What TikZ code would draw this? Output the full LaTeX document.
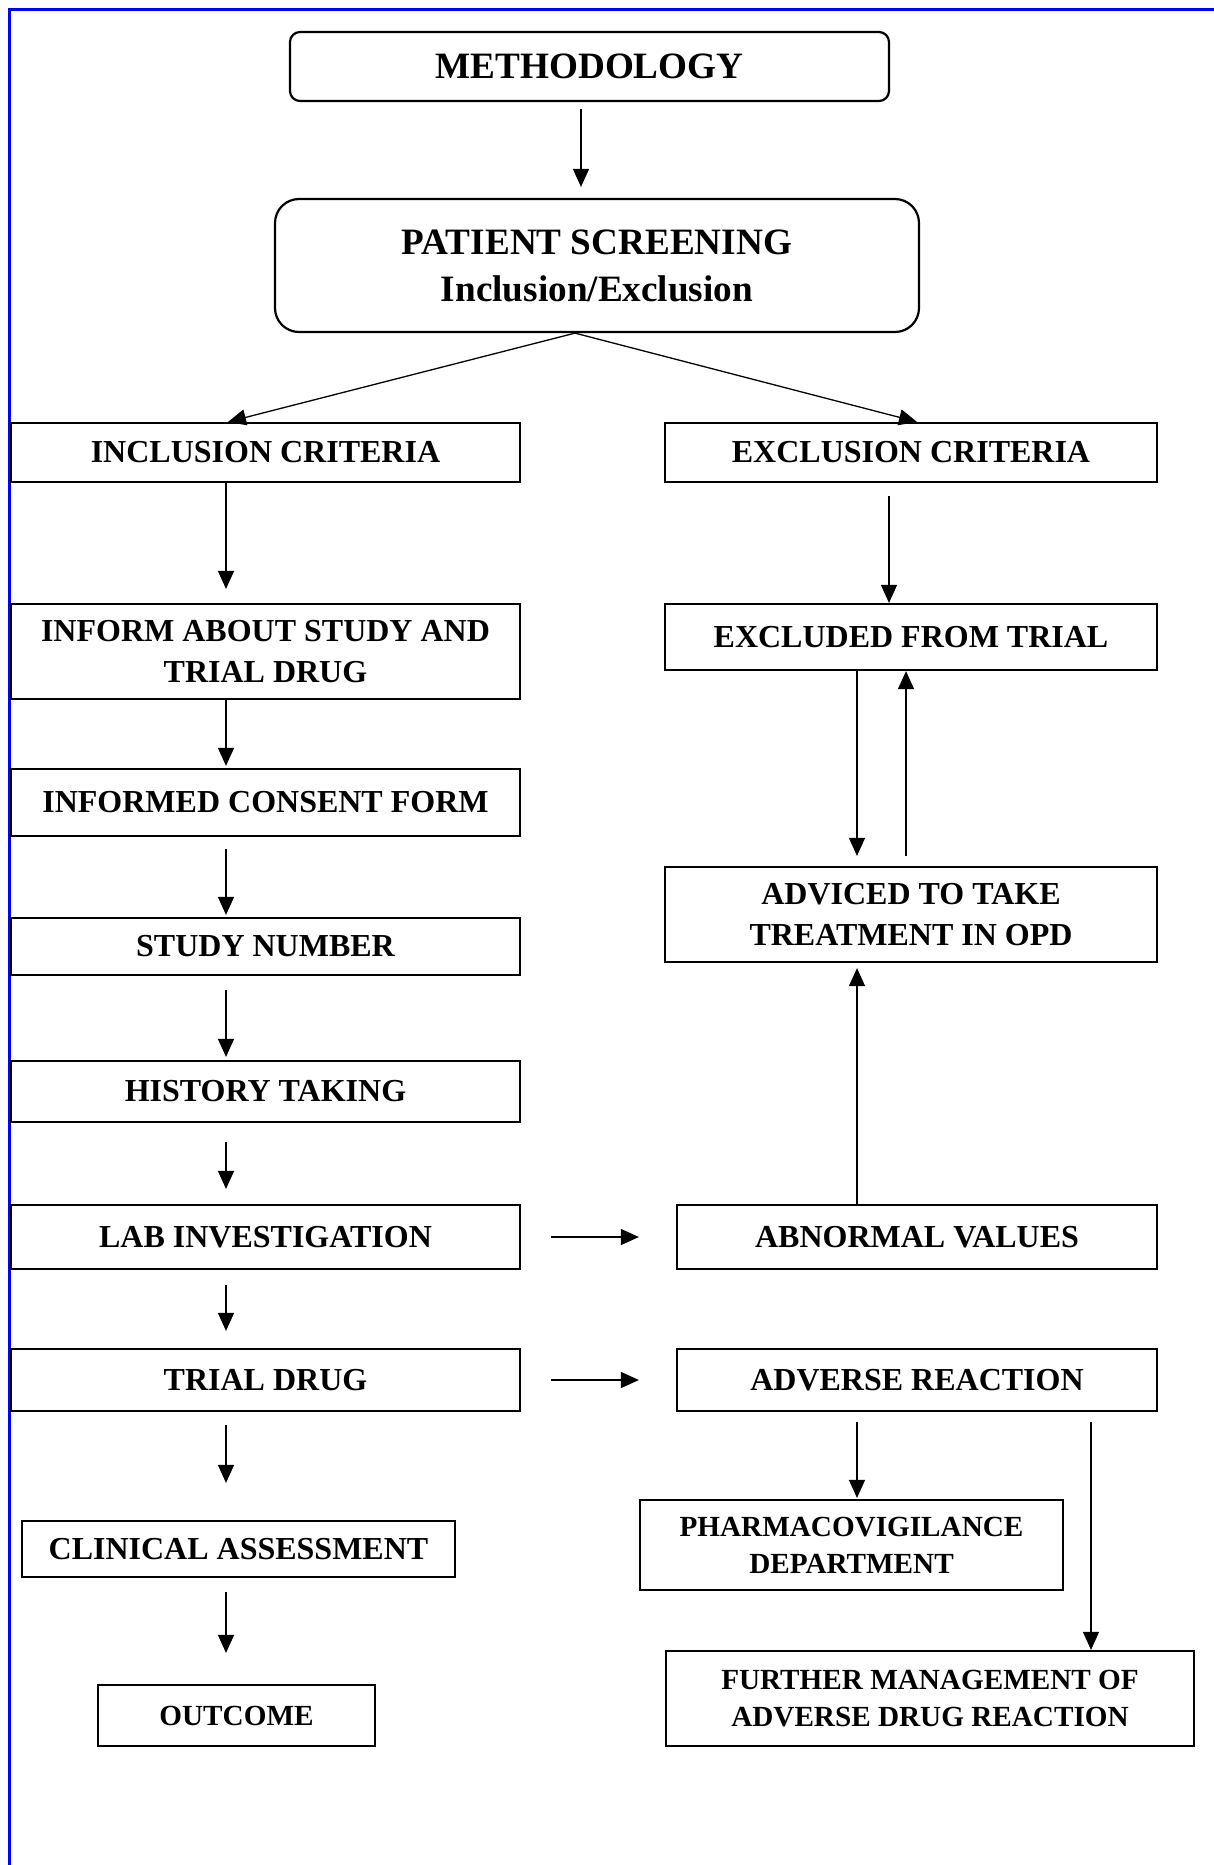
\documentclass[tikz,border=0pt]{standalone}
\usepackage{fontspec}
\setmainfont{Liberation Serif}
\usetikzlibrary{arrows.meta}

\begin{document}
\begin{tikzpicture}[x=0.5pt,y=-0.5pt,
	box/.style = {draw, line width=1.1pt, inner sep=0pt, align=center, font=\bfseries\fontsize{16}{20.2}\selectfont},
	smallbox/.style = {box, font=\bfseries\fontsize{14.6}{18.4}\selectfont},
	headbox/.style = {box, rounded corners=5pt, font=\bfseries\fontsize{18.6}{23.5}\selectfont},
	>={Triangle[length=9pt,width=8pt]},
	link/.style = {->, line width=0.65pt}]
	\useasboundingbox (0,0) rectangle (1214,1865);
	\draw[blue, line width=1.2pt] (1214,9.5) -- (9.5,9.5) -- (9.5,1865);
	\node[headbox, minimum width=299.5pt, minimum height=34.5pt] (meth) at (589.5,66.5) {METHODOLOGY};
	\node[headbox, rounded corners=12pt, minimum width=322pt, minimum height=66.5pt] (screen) at (597,265.5) {PATIENT SCREENING\\Inclusion/Exclusion};
	\node[box, minimum width=254.5pt, minimum height=29.5pt] (inc) at (265.5,452.5) {INCLUSION CRITERIA};
	\node[box, minimum width=246pt, minimum height=29.5pt] (exc) at (911,452.5) {EXCLUSION CRITERIA};
	\node[box, minimum width=254.5pt, minimum height=47.5pt] (inform) at (265.5,651.5) {INFORM ABOUT STUDY AND\\TRIAL DRUG};
	\node[box, minimum width=246pt, minimum height=33pt] (excl) at (911,637) {EXCLUDED FROM TRIAL};
	\node[box, minimum width=254.5pt, minimum height=33.5pt] (consent) at (265.5,802.5) {INFORMED CONSENT FORM};
	\node[box, minimum width=246pt, minimum height=47.5pt] (opd) at (911,914.5) {ADVICED TO TAKE\\TREATMENT IN OPD};
	\node[box, minimum width=254.5pt, minimum height=28.5pt] (study) at (265.5,946.5) {STUDY NUMBER};
	\node[box, minimum width=254.5pt, minimum height=30.5pt] (hist) at (265.5,1091.5) {HISTORY TAKING};
	\node[box, minimum width=254.5pt, minimum height=32pt] (lab) at (265.5,1237) {LAB INVESTIGATION};
	\node[box, minimum width=240pt, minimum height=32pt] (abn) at (917,1237) {ABNORMAL VALUES};
	\node[box, minimum width=254.5pt, minimum height=31pt] (trial) at (265.5,1380) {TRIAL DRUG};
	\node[box, minimum width=240pt, minimum height=31pt] (adr) at (917,1380) {ADVERSE REACTION};
	\node[box, minimum width=216.5pt, minimum height=28pt] (clin) at (238.5,1549) {CLINICAL ASSESSMENT};
	\node[smallbox, minimum width=211.5pt, minimum height=45pt] (pv) at (851.5,1545) {PHARMACOVIGILANCE\\DEPARTMENT};
	\node[smallbox, minimum width=138.5pt, minimum height=30.5pt] (out) at (236.5,1715.5) {OUTCOME};
	\node[smallbox, minimum width=264pt, minimum height=47.5pt] (mgmt) at (930,1698.5) {FURTHER MANAGEMENT OF\\ADVERSE DRUG REACTION};
	\coordinate (mcol) at (581,0);
	\coordinate (lcol) at (226,0);
	\coordinate (ecol) at (889,0);
	\coordinate (dcol) at (857,0);
	\coordinate (ucol) at (906,0);
	\coordinate (fcol) at (1091,0);
	\draw[link, shorten <=3.5pt, shorten >=5.5pt] (meth.south -| mcol) -- (screen.north -| mcol);
	\draw[link] ([xshift=-11pt]screen.south) -- ([xshift=-18.75pt]inc.north);
	\draw[link] ([xshift=-11pt]screen.south) -- ([xshift=3pt]exc.north);
	\draw[link, shorten >=7pt] (inc.south -| lcol) -- (inform.north -| lcol);
	\draw[link, shorten <=6.5pt] (exc.south -| ecol) -- (excl.north -| ecol);
	\draw[link, shorten >=1pt] (inform.south -| lcol) -- (consent.north -| lcol);
	\draw[link, shorten <=6pt, shorten >=1pt] (consent.south -| lcol) -- (study.north -| lcol);
	\draw[link, shorten <=7pt, shorten >=1.5pt] (study.south -| lcol) -- (hist.north -| lcol);
	\draw[link, shorten <=9.5pt, shorten >=7.5pt] (hist.south -| lcol) -- (lab.north -| lcol);
	\draw[link, shorten <=15pt, shorten >=18.5pt] (lab.east) -- (abn.west);
	\draw[link, shorten >=2.5pt] (abn.north -| dcol) -- (opd.south -| dcol);
	\draw[link, shorten >=5pt] (excl.south -| dcol) -- (opd.north -| dcol);
	\draw[link, shorten <=5pt] (opd.north -| ucol) -- (excl.south -| ucol);
	\draw[link, shorten <=7.5pt, shorten >=8.5pt] (lab.south -| lcol) -- (trial.north -| lcol);
	\draw[link, shorten <=15pt, shorten >=18.5pt] (trial.east) -- (adr.west);
	\draw[link, shorten <=6.5pt, shorten >=18.5pt] (trial.south -| lcol) -- (clin.north -| lcol);
	\draw[link, shorten <=7pt, shorten >=15.5pt] (clin.south -| lcol) -- (out.north -| lcol);
	\draw[link, shorten <=5pt, shorten >=0.5pt] (adr.south -| dcol) -- (pv.north -| dcol);
	\draw[link, shorten <=5pt] (adr.south -| fcol) -- (mgmt.north -| fcol);
\end{tikzpicture}
\end{document}
